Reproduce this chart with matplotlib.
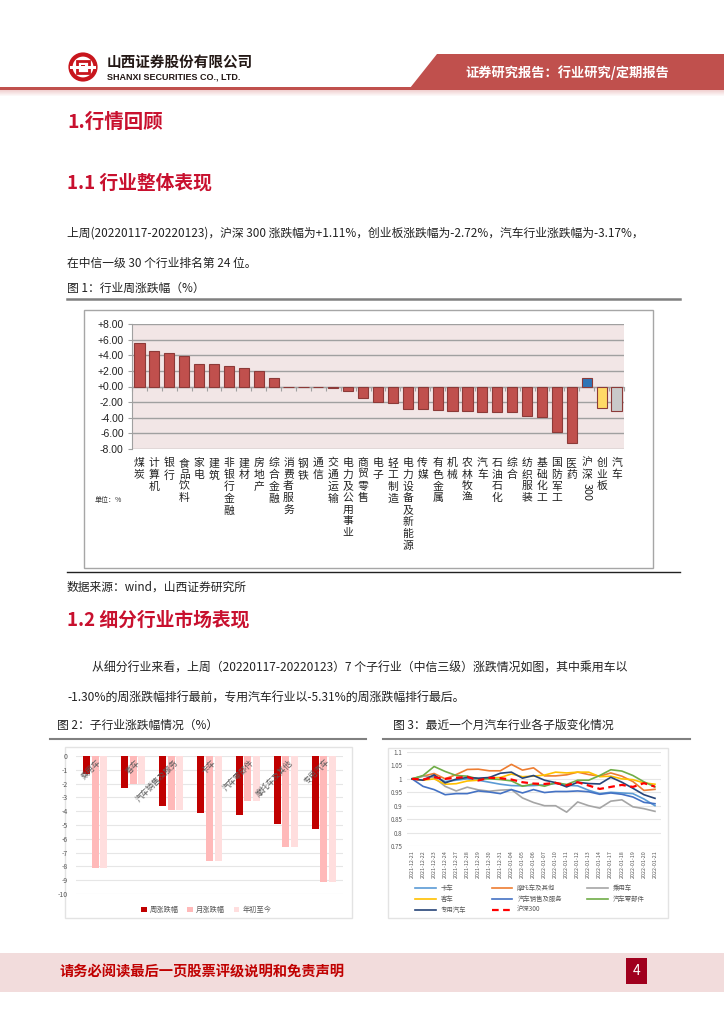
import numpy as np
import matplotlib
matplotlib.use('Agg')
import matplotlib.pyplot as plt
import matplotlib.transforms as mtransforms
from matplotlib.patches import Rectangle, Polygon, Circle

plt.rcParams['font.family'] = ['Noto Sans CJK SC', 'DejaVu Sans']
plt.rcParams['axes.unicode_minus'] = False

# ---------------- data ----------------
# 图1 行业周涨跌幅
ind_names = ['煤炭', '计算机', '银行', '食品饮料', '家电', '建筑', '非银行金融', '建材',
             '房地产', '综合金融', '消费者服务', '钢铁', '通信', '交通运输', '电力及公用事业',
             '商贸零售', '电子', '轻工制造', '电力设备及新能源', '传媒', '有色金属', '机械',
             '农林牧渔', '汽车', '石油石化', '综合', '纺织服装', '基础化工', '国防军工', '医药',
             '沪深300', '创业板', '汽车']
ind_chg = [5.53, 4.60, 4.34, 3.90, 2.90, 2.85, 2.64, 2.43, 2.04, 1.10, -0.06, -0.07,
           -0.12, -0.22, -0.52, -1.45, -2.00, -2.17, -2.88, -2.88, -2.97, -3.10, -3.18,
           -3.20, -3.30, -3.30, -3.75, -3.87, -5.87, -7.28, 1.11, -2.72, -3.17]

# 图2 子行业涨跌幅
sub_names = ['乘用车', '客车', '汽车销售及服务', '卡车', '汽车零部件', '摩托车及其他', '专用汽车']
week_chg = [-1.30, -2.32, -3.62, -4.13, -4.30, -4.95, -5.31]
month_chg = [-8.09, -2.03, -3.89, -7.63, -3.28, -6.59, -9.15]
ytd_chg = [-8.09, -2.03, -3.89, -7.63, -3.28, -6.59, -9.15]

# 图3 最近一个月各子版指数
dates = ['2021-12-21', '2021-12-22', '2021-12-23', '2021-12-24', '2021-12-27', '2021-12-28',
         '2021-12-29', '2021-12-30', '2021-12-31', '2022-01-04', '2022-01-05', '2022-01-06',
         '2022-01-07', '2022-01-10', '2022-01-11', '2022-01-12', '2022-01-13', '2022-01-14',
         '2022-01-17', '2022-01-18', '2022-01-19', '2022-01-20', '2022-01-21']
truck = [1.0, 0.995, 1.01, 0.99, 0.995, 1.0, 0.995, 0.9875, 0.98, 0.975, 0.974, 0.975,
         0.9775, 0.9825, 0.976, 0.974, 0.9575, 0.945, 0.95, 0.9475, 0.945, 0.925, 0.90]
moto = [1.0, 1.01, 1.02, 1.0, 1.016, 1.035, 1.036, 1.03, 1.03, 1.054, 1.0325, 1.041,
        1.011, 1.011, 1.015, 1.025, 1.016, 1.01, 1.022, 1.01, 0.99, 0.957, 0.961]
car = [1.0, 1.01, 1.005, 0.972, 0.955, 0.969, 0.959, 0.954, 0.958, 0.96, 0.929, 0.912,
       0.90, 0.90, 0.876, 0.914, 0.90, 0.891, 0.917, 0.922, 0.896, 0.889, 0.879]
bus = [1.0, 0.995, 1.0, 0.98, 0.982, 0.992, 0.995, 1.004, 1.005, 1.018, 1.008, 1.01,
       1.014, 1.025, 1.022, 1.025, 1.025, 1.008, 1.01, 1.0, 0.997, 0.985, 0.98]
sales = [1.0, 0.972, 0.96, 0.941, 0.945, 0.945, 0.955, 0.951, 0.945, 0.96, 0.9475, 0.96,
         0.949, 0.953, 0.953, 0.955, 0.952, 0.9425, 0.9475, 0.9425, 0.9325, 0.9125, 0.9075]
parts = [1.0, 1.0125, 1.046, 1.0275, 1.0125, 1.01, 1.0, 1.0, 0.9975, 0.9925, 0.9725, 0.981,
         0.9725, 0.986, 0.979, 0.995, 0.995, 1.0125, 1.034, 1.029, 1.0125, 0.989, 0.97]
special = [1.0, 0.995, 1.015, 0.985, 0.999, 1.005, 1.0025, 1.005, 1.021, 1.025, 1.0025,
           1.0125, 0.995, 0.986, 0.97, 0.9875, 0.9825, 0.981, 1.006, 0.9875, 0.965, 0.941, 0.9275]
hs300 = [1.0, 0.9975, 1.006, 1.0, 1.004, 1.0075, 0.994, 1.004, 1.0025, 0.9975, 0.9875,
         0.9825, 0.981, 0.985, 0.976, 0.9875, 0.975, 0.9625, 0.97, 0.9775, 0.97, 0.984, 0.971]

W, H = 724, 1024
RED = '#C8102E'

fig = plt.figure(figsize=(W / 100, H / 100), dpi=100)

# page-level drawing area in pixel coords
bg = fig.add_axes([0, 0, 1, 1], zorder=-1)
bg.set_xlim(0, W)
bg.set_ylim(H, 0)
bg.axis('off')


def fx(x):
    return x / W


def fy(y):
    return 1 - y / H


def txt(x, y, s, **kw):
    fig.text(fx(x), fy(y), s, **kw)


def add_ax(x0, y0, x1, y1):
    return fig.add_axes([fx(x0), fy(y1), (x1 - x0) / W, (y1 - y0) / H])


# ---------------- header ----------------
bg.add_patch(Polygon([[437, 54], [W, 54], [W, 88], [410, 88]], closed=True,
                     facecolor='#C0504D', edgecolor='none'))
bg.add_patch(Rectangle((0, 87), W, 3, facecolor='#C0504D', edgecolor='none'))
for k in range(6):
    bg.add_patch(Rectangle((0, 90 + k), W, 1, facecolor='#E8B4B4',
                           alpha=0.6 - k * 0.1, edgecolor='none'))
txt(567, 73, '证券研究报告：行业研究/定期报告', color='white', fontsize=9.5,
    fontweight='bold', ha='center', va='center')

# logo
bg.add_patch(Circle((83, 67), 12.5, facecolor='none', edgecolor='#C8161D', lw=3))
bg.add_patch(Rectangle((77, 61), 12, 12, facecolor='none', edgecolor='#C8161D', lw=2))
bg.add_patch(Rectangle((81, 65), 4, 4, facecolor='#C8161D', edgecolor='none'))
bg.add_patch(Rectangle((70, 65.5), 26, 3, facecolor='white', edgecolor='none'))
txt(107, 62, '山西证券股份有限公司', fontsize=10.5, fontweight='bold', va='center',
    color='#231815')
txt(107, 77, 'SHANXI SECURITIES CO., LTD.', fontsize=6.5, fontweight='bold',
    va='center', color='#231815', family='Liberation Sans')

# ---------------- section 1 ----------------
txt(67, 122, '1.行情回顾', fontsize=14, fontweight='bold', color=RED, va='center')
txt(67, 183, '1.1 行业整体表现', fontsize=13.5, fontweight='bold', color=RED, va='center')
txt(67, 233, '上周(20220117-20220123)，沪深 300 涨跌幅为+1.11%，创业板涨跌幅为-2.72%，'
    '汽车行业涨跌幅为-3.17%，', fontsize=8.5, va='center', color='#222222')
txt(67, 263, '在中信一级 30 个行业排名第 24 位。', fontsize=8.5, va='center', color='#222222')
txt(67, 288, '图 1：行业周涨跌幅（%）', fontsize=8.5, va='center', color='#222222')
bg.plot([67, 680], [299, 299], color='#808080', lw=1.8)

# chart 1 frame
bg.add_patch(Rectangle((84, 310), 569, 258, facecolor='white', edgecolor='#A6A6A6', lw=1))

ax1 = add_ax(132, 324, 624, 449)
ax1.set_facecolor('#F2E6E6')
bar_cols = ['#C0504D'] * 30 + ['#2E75B6', '#FFD966', '#C9C9C9']
x1 = np.arange(len(ind_names))
ax1.bar(x1, ind_chg, width=0.68, color=bar_cols, edgecolor='#8C3A38', lw=0.8, zorder=3)
ax1.set_xlim(-0.5, len(ind_names) - 0.5)
ax1.set_ylim(-8, 8)
ax1.set_yticks(np.arange(-8, 9, 2))
ax1.set_yticklabels([f'{v:+.2f}' for v in np.arange(-8, 9, 2)], fontsize=7.5,
                    color='#222222', family='Liberation Sans')
ax1.grid(axis='y', color='#A0A0A0', lw=1, zorder=1)
ax1.tick_params(axis='y', length=3, color='#A0A0A0', pad=3)
for s in ['top', 'right']:
    ax1.spines[s].set_visible(False)
ax1.spines['left'].set_color('#A0A0A0')
ax1.spines['bottom'].set_position(('data', 0))
ax1.spines['bottom'].set_color('#A0A0A0')
ax1.spines['bottom'].set_zorder(2)
ax1.set_xticks(np.arange(-0.5, len(ind_names), 1))
ax1.set_xticklabels([])
ax1.tick_params(axis='x', length=3, color='#A0A0A0', direction='out')

trans1 = mtransforms.blended_transform_factory(ax1.transData, fig.transFigure)
for i, name in enumerate(ind_names):
    cjk = name.rstrip('0123456789')
    num = name[len(cjk):]
    ax1.text(i, fy(458), '\n'.join(cjk), transform=trans1, ha='center', va='top',
             fontsize=7.8, linespacing=1.2, color='#222222', clip_on=False)
    if num:
        ax1.text(i, fy(459 + 12 * len(cjk)), num, transform=trans1, ha='center',
                 va='top', rotation=-90, fontsize=7.8, color='#222222', clip_on=False)
txt(95, 500, '单位：%', fontsize=5, va='center', color='#333333')

bg.plot([67, 680], [572, 572], color='#222222', lw=1)
txt(67, 587, '数据来源：wind，山西证券研究所', fontsize=8.5, va='center', color='#222222')

# ---------------- section 1.2 ----------------
txt(67, 620, '1.2 细分行业市场表现', fontsize=13.5, fontweight='bold', color=RED, va='center')
txt(92, 668, '从细分行业来看，上周（20220117-20220123）7 个子行业（中信三级）涨跌情况如图，'
    '其中乘用车以', fontsize=8.6, va='center', color='#222222')
txt(67, 698, '-1.30%的周涨跌幅排行最前，专用汽车行业以-5.31%的周涨跌幅排行最后。',
    fontsize=8.6, va='center', color='#222222')
txt(57, 725, '图 2：子行业涨跌幅情况（%）', fontsize=8.5, va='center', color='#222222')
txt(393, 725, '图 3：最近一个月汽车行业各子版变化情况', fontsize=8.5, va='center', color='#222222')
bg.plot([50, 366], [739, 739], color='#808080', lw=1.5)
bg.plot([383, 690], [739, 739], color='#808080', lw=1.5)

# chart 2
bg.add_patch(Rectangle((65, 747), 287, 171, facecolor='white', edgecolor='#E3E3E3', lw=1))
ax2 = add_ax(76, 756, 343, 894)
x2 = np.arange(len(sub_names))
bw = 0.185
ax2.bar(x2 - 0.225, week_chg, width=bw, color='#C00000', zorder=3, label='周涨跌幅')
ax2.bar(x2, month_chg, width=bw, color='#FFB9B9', zorder=3, label='月涨跌幅')
ax2.bar(x2 + 0.225, ytd_chg, width=bw, color='#FFDEDE', zorder=3, label='年初至今')
ax2.set_xlim(-0.5, len(sub_names) - 0.5)
ax2.set_ylim(-10, 0)
ax2.set_yticks(np.arange(-10, 1, 1))
ax2.set_yticklabels([str(v) for v in np.arange(-10, 1, 1)], fontsize=5, color='#595959')
ax2.tick_params(axis='y', length=0, pad=6)
ax2.set_xticks([])
ax2.grid(axis='y', color='#E6E6E6', lw=0.8, zorder=0)
ax2.set_axisbelow(True)
for s in ax2.spines.values():
    s.set_visible(False)
for i, name in enumerate(sub_names):
    ax2.text(i + 0.05, -0.15, name, rotation=45, ha='right', va='top',
             rotation_mode='anchor', fontsize=5.8, color='#595959', zorder=5)
ax2.legend(loc='center', bbox_to_anchor=(fx(206), fy(910)), bbox_transform=fig.transFigure,
           ncol=3, frameon=False, fontsize=5.2, labelcolor='#595959', handlelength=0.8,
           handleheight=0.8, columnspacing=1.2, handletextpad=0.4)

# chart 3
bg.add_patch(Rectangle((388, 748), 280, 170, facecolor='white', edgecolor='#E3E3E3', lw=1))
ax3 = add_ax(406.5, 752, 660.5, 846)
x3 = np.arange(len(dates))
series = [
    ('卡车', truck, '#5B9BD5'),
    ('摩托车及其他', moto, '#ED7D31'),
    ('乘用车', car, '#A5A5A5'),
    ('客车', bus, '#FFC000'),
    ('汽车销售及服务', sales, '#4472C4'),
    ('汽车零部件', parts, '#70AD47'),
    ('专用汽车', special, '#264478'),
]
handles = {}
for name, vals, col in series:
    h, = ax3.plot(x3, vals, color=col, lw=1.2, label=name, zorder=3)
    handles[name] = h
h, = ax3.plot(x3, hs300, color='#FF0000', lw=1.6, ls=(0, (3, 2)), label='沪深300', zorder=4)
handles['沪深300'] = h
ax3.set_xlim(-0.5, len(dates) - 0.5)
ax3.set_ylim(0.75, 1.1)
yt3 = [0.75, 0.8, 0.85, 0.9, 0.95, 1.0, 1.05, 1.1]
ax3.set_yticks(yt3)
ax3.set_yticklabels(['0.75', '0.8', '0.85', '0.9', '0.95', '1', '1.05', '1.1'],
                    fontsize=4.5, color='#595959')
ax3.tick_params(axis='y', length=0, pad=3)
ax3.set_xticks(x3)
ax3.set_xticklabels(dates, rotation=90, fontsize=3.9, color='#595959')
ax3.tick_params(axis='x', length=0, pad=3)
ax3.grid(axis='y', color='#E6E6E6', lw=0.8, zorder=0)
for s in ax3.spines.values():
    s.set_visible(False)
order = ['卡车', '客车', '专用汽车', '摩托车及其他', '汽车销售及服务', '沪深300',
         '乘用车', '汽车零部件']
ax3.legend([handles[k] for k in order], order, loc='center',
           bbox_to_anchor=(fx(530), fy(899)), bbox_transform=fig.transFigure,
           ncol=3, frameon=False, fontsize=4.6, labelcolor='#595959', handlelength=3.2,
           columnspacing=4.0, handletextpad=0.8, labelspacing=0.45)

# ---------------- footer ----------------
bg.add_patch(Rectangle((0, 953), W, 39, facecolor='#F2DCDC', edgecolor='none'))
txt(60, 972, '请务必阅读最后一页股票评级说明和免责声明', fontsize=10.3, fontweight='bold',
    color='#C00000', va='center')
bg.add_patch(Rectangle((626, 958), 21, 26, facecolor='#A0001E', edgecolor='none'))
txt(636.5, 971, '4', fontsize=10, color='white', ha='center', va='center')

fig.savefig('out.png', dpi=100)
